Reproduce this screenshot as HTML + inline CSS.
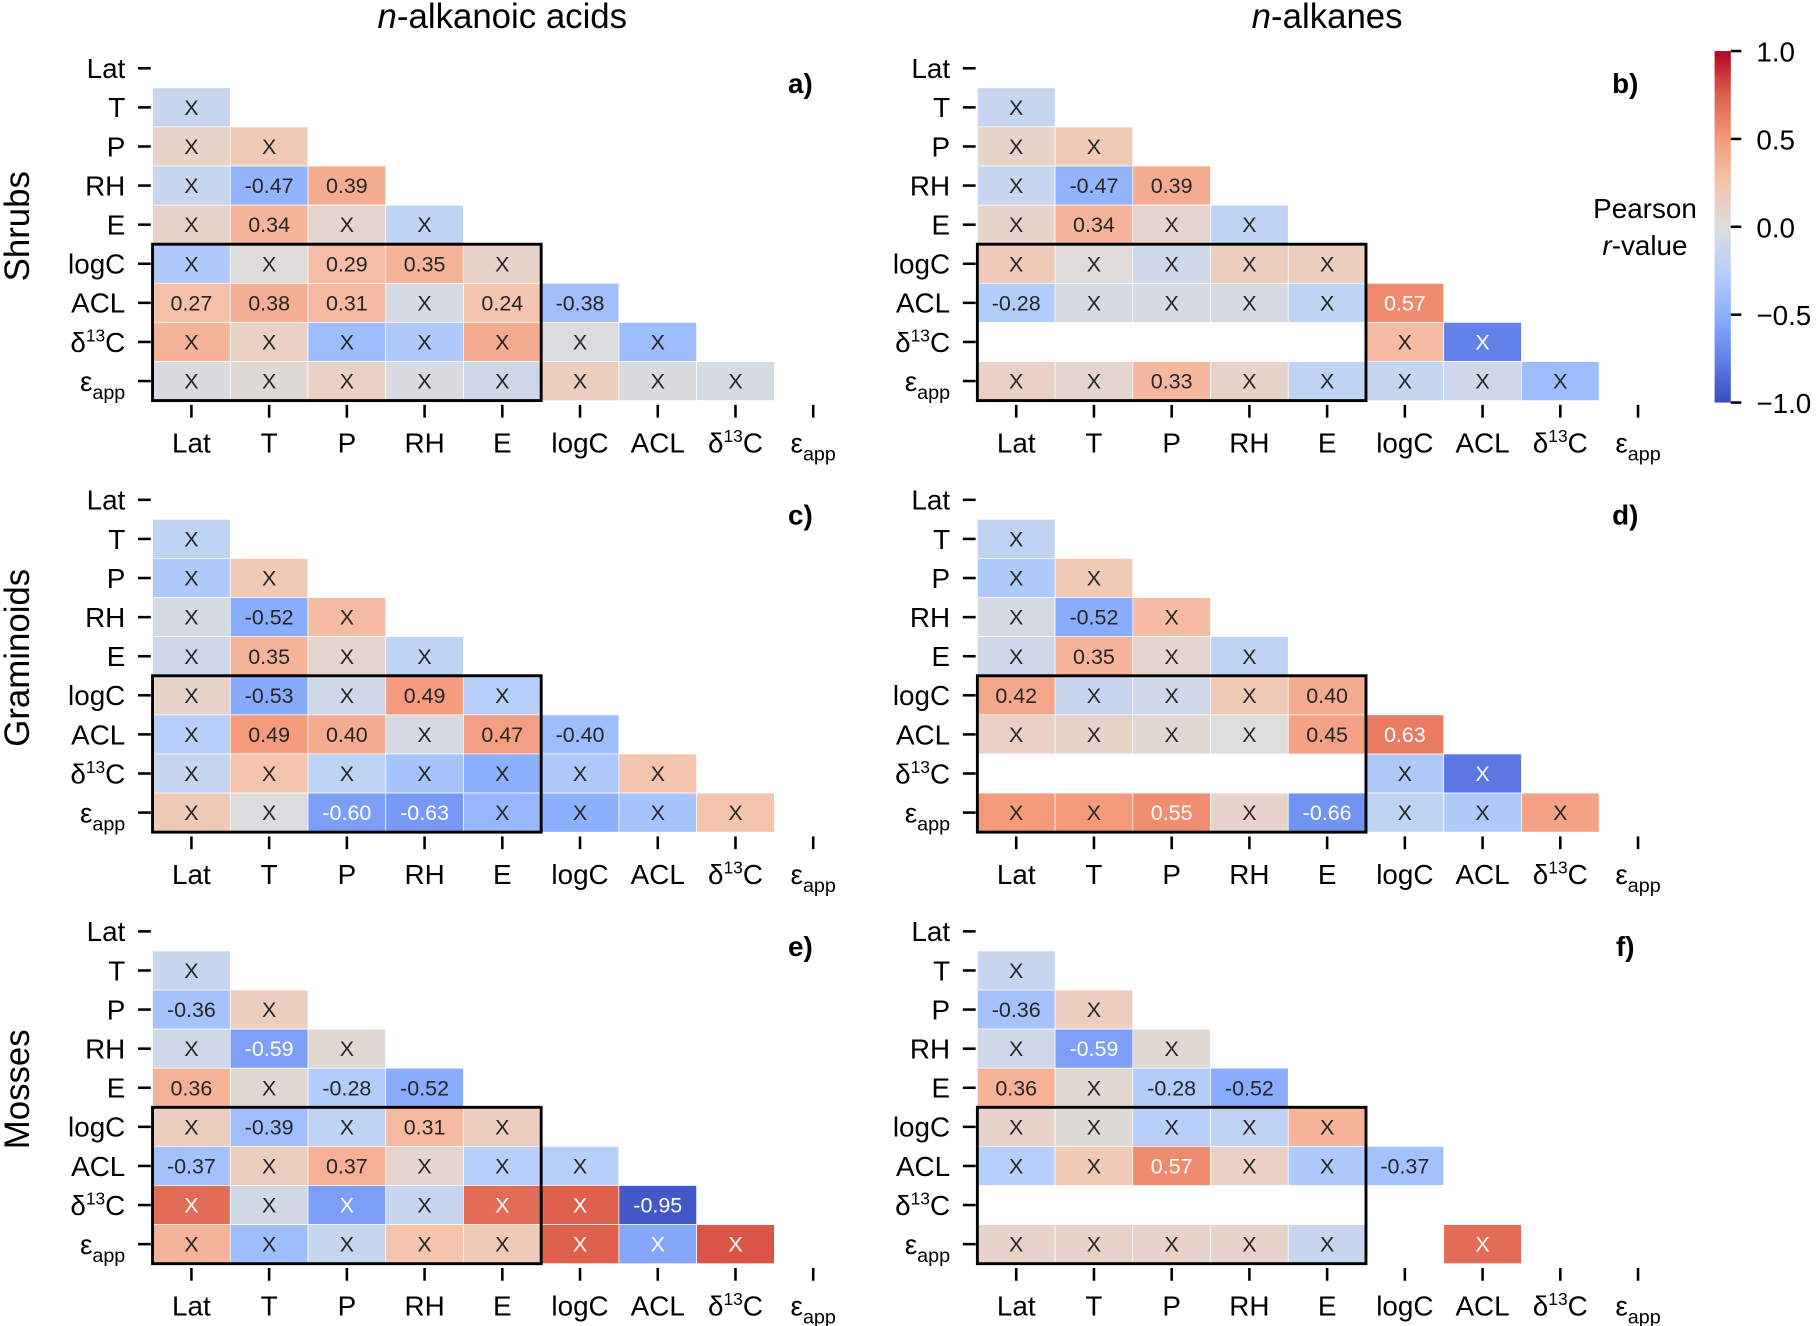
<!DOCTYPE html>
<html><head><meta charset="utf-8"><style>
html,body{margin:0;padding:0;background:#fff;}
svg{display:block;font-family:"Liberation Sans",Arial,sans-serif;}
</style></head><body>
<svg id="fig" width="1819" height="1326" viewBox="0 0 1568 1143" xmlns="http://www.w3.org/2000/svg">
<defs>
<linearGradient id="cbgrad" x1="0" y1="1" x2="0" y2="0">
<stop offset="0" stop-color="rgb(58,76,192)"/><stop offset="0.125" stop-color="rgb(98,130,234)"/>
<stop offset="0.25" stop-color="rgb(141,176,254)"/><stop offset="0.375" stop-color="rgb(184,208,249)"/>
<stop offset="0.5" stop-color="rgb(221,221,221)"/><stop offset="0.625" stop-color="rgb(245,196,173)"/>
<stop offset="0.75" stop-color="rgb(244,154,123)"/><stop offset="0.875" stop-color="rgb(222,96,77)"/>
<stop offset="1" stop-color="rgb(180,4,38)"/>
</linearGradient>
</defs>
<g id="root"></g>
</svg>
<script>
// ----- data -----
const variables = ["Lat","T","P","RH","E","logC","ACL","d13C","eapp"];
const panelLetters = ["a)","b)","c)","d)","e)","f)"];
const rowGroups = ["Shrubs","Graminoids","Mosses"];
const colTitles = ["n-alkanoic acids","n-alkanes"];
const cbTicks = [1.0,0.5,0.0,-0.5,-1.0];
const cbTickLabels = ["1.0","0.5","0.0","\u22120.5","\u22121.0"];
// lower-triangle r values (rows T..eapp), null = missing
const panelA = [[-0.15],[0.1,0.2],[-0.15,-0.47,0.39],[0.1,0.34,0.08,-0.2],[-0.3,0.02,0.29,0.35,0.1],[0.27,0.38,0.31,-0.05,0.24,-0.38],[0.35,0.12,-0.4,-0.3,0.4,-0.02,-0.4],[-0.03,0.03,0.12,-0.03,-0.1,0.15,-0.03,-0.05]];
const sigA = [[0],[0,0],[0,1,1],[0,1,0,0],[0,0,1,1,0],[1,1,1,0,1,1],[0,0,0,0,0,0,0],[0,0,0,0,0,0,0,0]];
const panelB = [[-0.15],[0.1,0.2],[-0.15,-0.47,0.39],[0.1,0.34,0.08,-0.2],[0.2,0.02,-0.1,0.15,0.15],[-0.28,-0.05,-0.05,-0.05,-0.2,0.57],[null,null,null,null,null,0.3,-0.75],[0.12,0.08,0.33,0.1,-0.2,-0.15,-0.1,-0.4]];
const sigB = [[0],[0,0],[0,1,1],[0,1,0,0],[0,0,0,0,0],[1,0,0,0,0,1],[0,0,0,0,0,0,0],[0,0,1,0,0,0,0,0]];
const panelC = [[-0.2],[-0.3,0.2],[-0.05,-0.52,0.3],[-0.1,0.35,0.08,-0.2],[0.1,-0.53,-0.1,0.49,-0.25],[-0.25,0.49,0.40,-0.05,0.47,-0.40],[-0.15,0.25,-0.2,-0.35,-0.5,-0.3,0.25],[0.2,-0.02,-0.60,-0.63,-0.45,-0.5,-0.35,0.25]];
const sigC = [[0],[0,0],[0,1,0],[0,1,0,0],[0,1,0,1,0],[0,1,1,0,1,1],[0,0,0,0,0,0,0],[0,0,1,1,0,0,0,0]];
const panelD = [[-0.2],[-0.3,0.2],[-0.05,-0.52,0.3],[-0.1,0.35,0.08,-0.2],[0.42,-0.15,-0.1,0.2,0.40],[0.12,0.1,0.05,0.0,0.45,0.63],[null,null,null,null,null,-0.3,-0.8],[0.5,0.5,0.55,0.1,-0.66,-0.2,-0.3,0.45]];
const sigD = [[0],[0,0],[0,1,0],[0,1,0,0],[1,0,0,0,1],[0,0,0,0,1,1],[0,0,0,0,0,0,0],[0,0,1,0,1,0,0,0]];
const panelE = [[-0.15],[-0.36,0.15],[-0.1,-0.59,0.05],[0.36,0.05,-0.28,-0.52],[0.15,-0.39,-0.2,0.31,0.15],[-0.37,0.15,0.37,0.08,-0.25,-0.25],[0.7,-0.08,-0.6,-0.15,0.7,0.75,-0.95],[0.35,-0.4,-0.15,0.25,0.2,0.75,-0.55,0.78]];
const sigE = [[0],[1,0],[0,1,0],[1,0,1,1],[0,1,0,1,0],[1,0,1,0,0,0],[0,0,0,0,0,0,1],[0,0,0,0,0,0,0,0]];
const panelF = [[-0.15],[-0.36,0.15],[-0.1,-0.59,0.05],[0.36,0.05,-0.28,-0.52],[0.1,0.03,-0.25,-0.2,0.35],[-0.25,0.2,0.57,0.12,-0.3,-0.37],[null,null,null,null,null,null,null],[0.1,0.1,0.1,0.1,-0.15,null,0.7,null]];
const sigF = [[0],[1,0],[0,1,0],[1,0,1,1],[0,0,0,0,0],[0,0,1,0,0,1],[0,0,0,0,0,0,0],[0,0,0,0,0,0,0,0]];
const panels = [panelA,panelB,panelC,panelD,panelE,panelF];
const sigs = [sigA,sigB,sigC,sigD,sigE,sigF];

// ----- helpers -----
const NS="http://www.w3.org/2000/svg";
const root=document.getElementById('root');
function mk(tag,attrs,parent){const e=document.createElementNS(NS,tag);for(const k in attrs)e.setAttribute(k,attrs[k]);(parent||root).appendChild(e);return e;}
const cmap=[[58,76,192],[98,130,234],[141,176,254],[184,208,249],[221,221,221],[245,196,173],[244,154,123],[222,96,77],[180,4,38]];
function color(r){let t=(r+1)/2*8;t=Math.max(0,Math.min(8,t));const i=Math.min(7,Math.floor(t)),f=t-i;const a=cmap[i],b=cmap[i+1];return `rgb(${a.map((v,k)=>Math.round(v+(b[k]-v)*f)).join(',')})`;}
const CW=67, CH=33.7, X0=131.5, Y0=42;
function xC(i,dx){return dx+X0+CW*(i+0.5);}
function yC(j,dy){return dy+Y0+CH*(j+0.5);}
function fmt(v){return v.toFixed(2);}
function label(el,name){
  if(name==="d13C"){el.appendChild(document.createTextNode("\u03b4"));const s=mk('tspan',{'font-size':'15','dy':'-9'},el);s.textContent="13";const c=mk('tspan',{'dy':'9'},el);c.textContent="C";}
  else if(name==="eapp"){el.appendChild(document.createTextNode("\u03b5"));const s=mk('tspan',{'font-size':'17','dy':'7'},el);s.textContent="app";}
  else el.textContent=name;
}

// ----- panels -----
panels.forEach((P,pi)=>{
  const dx=(pi%2)*711, dy=Math.floor(pi/2)*372;
  const g=mk('g',{});
  
  
  P.forEach((row,ri)=>{row.forEach((v,ci)=>{
    if(v===null)return;
    const j=ri+1;
    const rc=mk('rect',{x:dx+X0+CW*ci,y:dy+Y0+CH*j,width:CW,height:CH,fill:color(v),stroke:'#fff','stroke-width':'0.6'},g);
    
    
    const t=mk('text',{x:xC(ci,dx),y:yC(j,dy)+6.5,'text-anchor':'middle','font-size':'18.5',fill:Math.abs(v)>=0.55?'#fff':'#262626'},g);
    
    
    t.textContent=sigs[pi][ri][ci]?fmt(v):"X";
  });});
  const bx=mk('rect',{x:dx+X0,y:dy+Y0+CH*5,width:CW*5,height:CH*4,fill:'none',stroke:'#000','stroke-width':'2.5'},g);
  
  
  variables.forEach((name,k)=>{
    mk('line',{x1:dx+119,x2:dx+130,y1:yC(k,dy),y2:yC(k,dy),stroke:'#000','stroke-width':'2.2'},g);
    const yl=mk('text',{x:dx+108,y:yC(k,dy)+8.5,'text-anchor':'end','font-size':'24',fill:'#000'},g);
    
    
    label(yl,name);
    mk('line',{x1:xC(k,dx),x2:xC(k,dx),y1:dy+349,y2:dy+360,stroke:'#000','stroke-width':'2.2'},g);
    const xl=mk('text',{x:xC(k,dx),y:dy+390,'text-anchor':'middle','font-size':'24',fill:'#000'},g);
    
    
    label(xl,name);
  });
  const pl=mk('text',{x:dx+690,y:dy+80,'text-anchor':'middle','font-size':'24','font-weight':'bold'},g);
  
  
  pl.textContent=panelLetters[pi];
});

colTitles.forEach((t,i)=>{
  const e=mk('text',{x:433+711*i,y:24,'text-anchor':'middle','font-size':'30'});
  
  
  const it=mk('tspan',{'font-style':'italic'},e);it.textContent="n";
  e.appendChild(document.createTextNode(t.slice(1)));
});
rowGroups.forEach((t,i)=>{
  const cy=195+372*i;
  const e=mk('text',{x:0,y:0,'text-anchor':'middle','font-size':'30',transform:`translate(25,${cy}) rotate(-90)`});
  
  
  e.textContent=t;
});
const cbTop=44, cbBot=347, cbX=1478, cbW=14;
const cb=mk('rect',{x:cbX,y:cbTop,width:cbW,height:cbBot-cbTop,fill:'url(#cbgrad)'});


function cbY(v){return cbBot-(v+1)/2*(cbBot-cbTop);}
cbTicks.forEach((v,i)=>{
  mk('line',{x1:cbX+cbW,x2:cbX+cbW+9,y1:cbY(v),y2:cbY(v),stroke:'#000','stroke-width':'2.2'});
  const t=mk('text',{x:1514,y:cbY(v)+9,'font-size':'24'});
  
  
  t.textContent=cbTickLabels[i];
});
const ct=mk('text',{x:1418,y:188,'text-anchor':'middle','font-size':'24'});


ct.textContent="Pearson";
const ct2=mk('text',{x:1418,y:220,'text-anchor':'middle','font-size':'24'});


const ri=mk('tspan',{'font-style':'italic'},ct2);ri.textContent="r";
ct2.appendChild(document.createTextNode("-value"));
</script>
</body></html>
